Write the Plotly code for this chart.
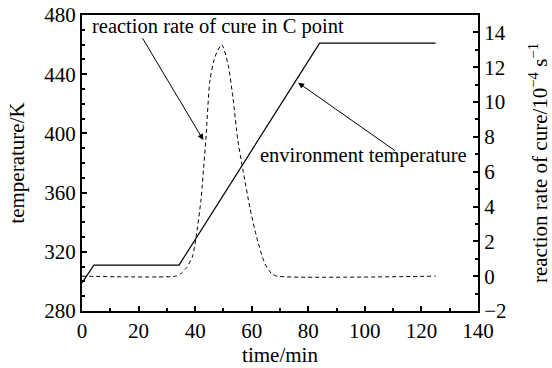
import plotly.graph_objects as go

# Environment temperature (K) vs time (min)
temp_time = [0, 4.2, 34.3, 84, 125]
temp_vals = [299, 311, 311, 461, 461]

# Reaction rate of cure at point C (10^-4 s^-1) vs time (min)
rate_time = [0, 33, 35, 37, 39, 40.3, 42, 43.8, 45.2, 47, 49.4, 51.6, 53.4, 55.1, 56.9,
             59.4, 61.8, 64.7, 67, 69, 125]
rate_vals = [0, 0, 0.15, 0.5, 1.1, 2.2, 4.3, 7.9, 11.2, 12.6, 13.3, 12.2, 10.2, 7.8, 6.1,
             3.9, 2.2, 0.7, 0.15, 0, 0]

x_ticks = [0, 20, 40, 60, 80, 100, 120, 140]
y_ticks = [280, 320, 360, 400, 440, 480]
y2_ticks = [-2, 0, 2, 4, 6, 8, 10, 12, 14]

FONT = "'Liberation Serif', 'Times New Roman', 'DejaVu Serif', serif"
FS = 21
FS_ANN = 20.5

fig = go.Figure()
fig.add_trace(go.Scatter(x=temp_time, y=temp_vals, mode="lines",
                         line=dict(color="black", width=1.2), showlegend=False))
fig.add_trace(go.Scatter(x=rate_time, y=rate_vals, mode="lines", yaxis="y2",
                         line=dict(color="black", width=1, dash="4px,3px", shape="spline", smoothing=0.6),
                         showlegend=False))

axis_common = dict(showline=True, linecolor="black", linewidth=2, showgrid=False, zeroline=False,
                   ticks="inside", ticklen=5, tickwidth=2, tickcolor="black", automargin=False,
                   tickfont=dict(family=FONT, size=FS, color="black"))

fig.update_layout(
    width=552, height=368,
    margin=dict(l=82, r=74, t=15, b=57),
    paper_bgcolor="white", plot_bgcolor="white",
    font=dict(family=FONT, size=FS, color="black"),
    xaxis=dict(range=[0, 140], tickvals=x_ticks, mirror=True,
               minor=dict(dtick=10, ticks="inside", ticklen=3, tickwidth=2, tickcolor="black"),
               title=dict(text="time/min", font=dict(family=FONT, size=FS), standoff=4),
               **axis_common),
    yaxis=dict(range=[280, 480], tickvals=y_ticks,
               minor=dict(dtick=10, ticks="inside", ticklen=3, tickwidth=2, tickcolor="black"),
               title=dict(text="temperature/K", font=dict(family=FONT, size=FS), standoff=14),
               **axis_common),
    yaxis2=dict(range=[-2, 15], tickvals=y2_ticks, overlaying="y", side="right",
                minor=dict(dtick=1, ticks="inside", ticklen=3, tickwidth=2, tickcolor="black"),
                title=dict(text="reaction rate of cure/10<sup>−4</sup> s<sup>−1</sup>",
                           font=dict(family=FONT, size=FS), standoff=30),
                **axis_common),
)

fig.add_annotation(x=2.8, y=472, xref="x", yref="y", text="reaction rate of cure in C point",
                   showarrow=False, xanchor="left", yanchor="middle",
                   font=dict(family=FONT, size=FS_ANN, color="black"))
fig.add_annotation(x=62.2, y=385, xref="x", yref="y", text="environment temperature",
                   showarrow=False, xanchor="left", yanchor="middle",
                   font=dict(family=FONT, size=FS_ANN, color="black"))
fig.add_annotation(x=42.9, y=395.5, ax=21.1, ay=465.3, xref="x", yref="y", axref="x", ayref="y",
                   text="", showarrow=True, arrowhead=2, arrowsize=1.2, arrowwidth=1, arrowcolor="black",
                   standoff=0)
fig.add_annotation(x=76.4, y=434.3, ax=111.2, ay=387.6, xref="x", yref="y", axref="x", ayref="y",
                   text="", showarrow=True, arrowhead=2, arrowsize=1.2, arrowwidth=1, arrowcolor="black",
                   standoff=0)

fig.write_html("out.html")
